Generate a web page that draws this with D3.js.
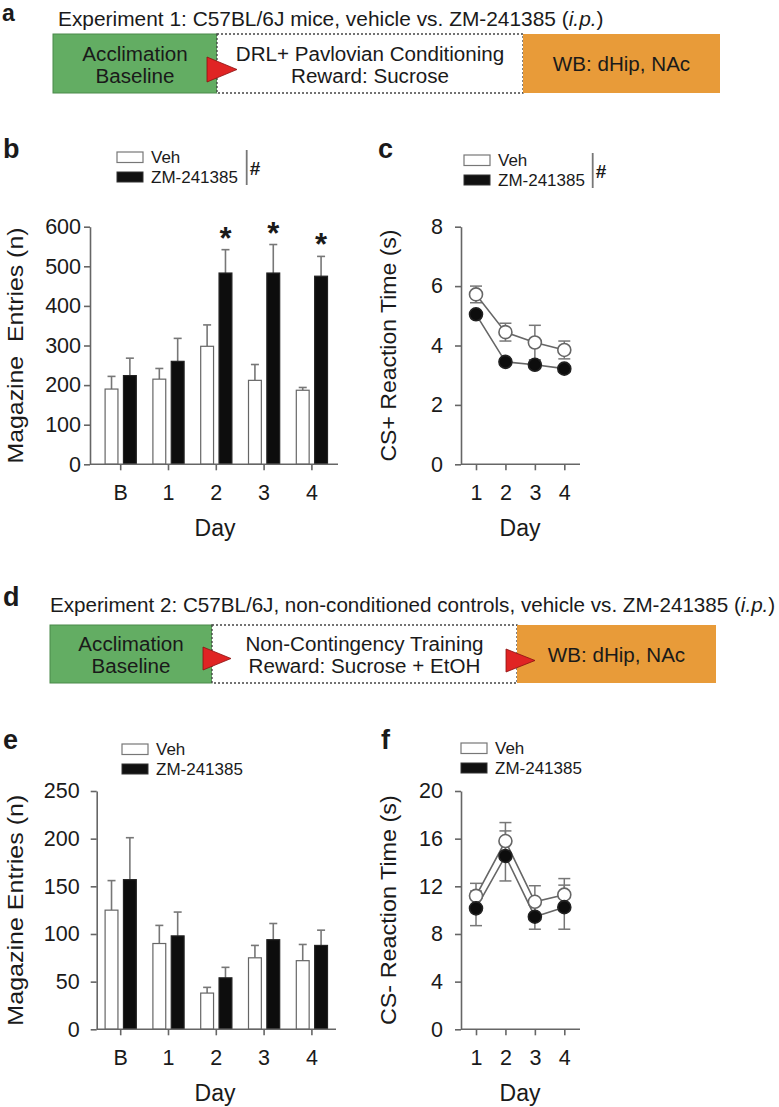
<!DOCTYPE html>
<html><head><meta charset="utf-8">
<script src="https://cdn.jsdelivr.net/npm/d3@7"></script>
<style>
body{margin:0;background:#fff}
svg{display:block}
text{font-family:"Liberation Sans",Arial,Helvetica,sans-serif;fill:#1a1a1a}
</style>
</head><body>
<svg id="fig" width="779" height="1107"></svg>
<script>
// ---------------- DATA ----------------
const days = ["B", "1", "2", "3", "4"];
const series = ["Veh", "ZM-241385"];
const lineDays = [1, 2, 3, 4];

// panel b: Magazine entries (n), experiment 1
const bVeh = [190, 215, 298, 212, 187];
const bVehErr = [32, 27, 54, 40, 7];
const bZM = [224, 260, 483, 483, 475];
const bZMErr = [44, 58, 59, 72, 50];
const bSig = [false, false, true, true, true];
const bTicks = [0, 100, 200, 300, 400, 500, 600];

// panel c: CS+ reaction time (s)
const cVeh = [5.72, 4.45, 4.1, 3.85];
const cVehErr = [0.28, 0.3, 0.58, 0.3];
const cZM = [5.05, 3.45, 3.35, 3.22];
const cZMErr = [0.12, 0.1, 0.12, 0.1];
const cTicks = [0, 2, 4, 6, 8];

// panel e: Magazine entries (n), experiment 2
const eVeh = [125, 90, 38, 75, 72];
const eVehErr = [31, 19, 6, 13, 17];
const eZM = [157, 98, 54, 94, 88];
const eZMErr = [44, 25, 11, 17, 16];
const eTicks = [0, 50, 100, 150, 200, 250];

// panel f: CS- reaction time (s)
const fVeh = [11.2, 15.8, 10.7, 11.3];
const fVehErr = [1.05, 1.55, 1.35, 1.35];
const fZM = [10.15, 14.55, 9.45, 10.25];
const fZMErr = [1.45, 2.1, 1.05, 1.85];
const fTicks = [0, 4, 8, 12, 16, 20];

// schematic texts
const exp1Title = ["Experiment 1: C57BL/6J mice, vehicle vs. ZM-241385 (", "i.p.", ")"];
const exp1Boxes = [["Acclimation", "Baseline"], ["DRL+ Pavlovian Conditioning", "Reward: Sucrose"], ["WB: dHip, NAc"]];
const exp2Title = ["Experiment 2: C57BL/6J, non-conditioned controls, vehicle vs. ZM-241385 (", "i.p.", ")"];
const exp2Boxes = [["Acclimation", "Baseline"], ["Non-Contingency Training", "Reward: Sucrose + EtOH"], ["WB: dHip, NAc"]];

// ---------------- DRAW ----------------
const svg = d3.select("#fig");
const AX = "#666";
const GREEN = "#63ad63", ORANGE = "#e89b39", RED = "#e02424";

function stretch(sel, x, y, w, rot) {
  const len = sel.node().getComputedTextLength();
  const s = w ? w / len : 1;
  sel.attr("transform", `translate(${x},${y})` + (rot ? ` rotate(${rot})` : "") + ` scale(${s},1)`);
  return sel;
}

function panelLetter(t, x, y, fs) {
  svg.append("text").attr("x", x).attr("y", y).attr("font-size", fs || 27).attr("font-weight", "bold").text(t);
}

// ---- schematic ----
function schematic(o) {
  const g = svg.append("g");
  const t = g.append("text").attr("font-size", 20).attr("fill", "#222");
  t.append("tspan").text(o.title[0]);
  t.append("tspan").attr("font-style", "italic").text(o.title[1]);
  t.append("tspan").text(o.title[2]);
  stretch(t, o.titleX, o.titleY, o.titleW);

  const [x0, x1, x2, x3] = o.xs;
  g.append("rect").attr("x", x0).attr("y", o.top).attr("width", x1 - x0).attr("height", o.h)
    .attr("fill", GREEN).attr("stroke", "#4a8a4a").attr("stroke-width", 1);
  g.append("rect").attr("x", x1).attr("y", o.top).attr("width", x2 - x1).attr("height", o.h)
    .attr("fill", "#fff").attr("stroke", "#444").attr("stroke-width", 1.3).attr("stroke-dasharray", "2,2");
  g.append("rect").attr("x", x2).attr("y", o.top).attr("width", x3 - x2).attr("height", o.h)
    .attr("fill", ORANGE);

  const centers = [(x0 + x1) / 2, (x1 + x2) / 2, (x2 + x3) / 2];
  o.boxes.forEach((lines, i) => {
    lines.forEach((ln, j) => {
      const yy = lines.length === 1 ? o.top + o.h / 2 + 7.5 : o.top + o.h / 2 - 3 + j * 22;
      const tt = g.append("text").attr("font-size", 20).attr("text-anchor", "middle").attr("fill", "#2a2a2a").text(ln);
      stretch(tt, centers[i], yy, tt.node().getComputedTextLength() * 1.03);
    });
  });
  o.tris.forEach(tr => {
    g.append("path").attr("d", `M${tr[0]},${tr[1]}L${tr[0]},${tr[1] + tr[3]}L${tr[0] + tr[2]},${tr[1] + tr[3] / 2}Z`)
      .attr("fill", RED).attr("stroke", "#8a1010").attr("stroke-width", 0.8);
  });
}

schematic({
  title: exp1Title, titleX: 58, titleY: 26, titleW: 546,
  xs: [53, 217, 523, 720], top: 34, h: 59, boxes: exp1Boxes,
  tris: [[207, 57, 30, 25]]
});
schematic({
  title: exp2Title, titleX: 50, titleY: 612, titleW: 726,
  xs: [50, 212, 517, 716], top: 625, h: 58, boxes: exp2Boxes,
  tris: [[203, 647, 28, 23], [506, 649, 29, 23]]
});

// ---- legends ----
function legend(x, y, hash, lineX) {
  const g = svg.append("g");
  g.append("rect").attr("x", x).attr("y", y).attr("width", 26).attr("height", 10.5)
    .attr("fill", "#fff").attr("stroke", "#777").attr("stroke-width", 1.2);
  g.append("rect").attr("x", x).attr("y", y + 20).attr("width", 26).attr("height", 10)
    .attr("fill", "#111").attr("stroke", "#333").attr("stroke-width", 1);
  g.append("text").attr("x", x + 34).attr("y", y + 11).attr("font-size", 17).attr("fill", "#333").text(series[0]);
  g.append("text").attr("x", x + 34).attr("y", y + 31).attr("font-size", 17).attr("fill", "#333").text(series[1]);
  if (hash) {
    g.append("line").attr("x1", lineX).attr("x2", lineX).attr("y1", y - 2).attr("y2", y + 33)
      .attr("stroke", "#777").attr("stroke-width", 1.8);
    g.append("text").attr("x", lineX + 3).attr("y", y + 23).attr("font-size", 19).attr("font-weight", "bold").text("#");
  }
}

// ---- bar panel ----
function barPanel(o) {
  const g = svg.append("g");
  const x = d3.scaleBand().domain(days).range([96.8, 335.8]);
  const xi = d3.scaleBand().domain(series).range([-15.6, 15.6]).paddingInner(0.3);
  const y = d3.scaleLinear().domain([0, o.max]).range([o.y0, o.y1]);
  const rows = [];
  days.forEach((d, i) => {
    rows.push({ d, s: series[0], v: o.veh[i], e: o.vehErr[i], sig: false });
    rows.push({ d, s: series[1], v: o.zm[i], e: o.zmErr[i], sig: o.sig ? o.sig[i] : false });
  });
  const cx = r => x(r.d) + x.bandwidth() / 2 + xi(r.s) + xi.bandwidth() / 2;
  rows.forEach(r => {
    const xc = cx(r);
    g.append("line").attr("x1", xc).attr("x2", xc).attr("y1", y(r.v)).attr("y2", y(r.v + r.e))
      .attr("stroke", "#777").attr("stroke-width", 1.6);
    g.append("line").attr("x1", xc - 4).attr("x2", xc + 4).attr("y1", y(r.v + r.e)).attr("y2", y(r.v + r.e))
      .attr("stroke", "#777").attr("stroke-width", 1.6);
    if (r.sig) {
      g.append("text").attr("x", xc).attr("y", y(r.v + r.e) - 1).attr("text-anchor", "middle")
        .attr("font-size", 31).attr("font-weight", "bold").text("*");
    }
  });
  g.selectAll("rect.bar").data(rows).join("rect").attr("class", "bar")
    .attr("x", r => x(r.d) + x.bandwidth() / 2 + xi(r.s))
    .attr("width", xi.bandwidth())
    .attr("y", r => y(r.v))
    .attr("height", r => o.y0 - y(r.v))
    .attr("fill", r => r.s === series[0] ? "#fff" : "#0d0d0d")
    .attr("stroke", r => r.s === series[0] ? "#666" : "#222")
    .attr("stroke-width", 1.2);
  const ya = g.append("g").attr("transform", `translate(${o.ax},0)`)
    .call(d3.axisLeft(y).tickValues(o.ticks).tickSize(6).tickSizeOuter(0).tickPadding(o.pad));
  ya.select(".domain").attr("stroke", AX).attr("stroke-width", 1.6);
  ya.selectAll(".tick line").attr("stroke", AX).attr("stroke-width", 1.6);
  ya.selectAll(".tick text").attr("font-size", 21.5).attr("fill", "#1a1a1a").attr("font-family", null);
  g.append("line").attr("x1", o.ax).attr("x2", o.axEnd).attr("y1", o.y0).attr("y2", o.y0)
    .attr("stroke", AX).attr("stroke-width", 1.6);
  const xa = g.append("g").attr("transform", `translate(0,${o.y0})`)
    .call(d3.axisBottom(x).tickSize(6).tickSizeOuter(0).tickPadding(14));
  xa.select(".domain").remove();
  xa.selectAll(".tick line").attr("stroke", AX).attr("stroke-width", 1.6);
  xa.selectAll(".tick text").attr("font-size", 21.5).attr("fill", "#1a1a1a").attr("font-family", null);
  g.append("text").attr("x", 215).attr("y", o.y0 + 72).attr("text-anchor", "middle").attr("font-size", 23).text("Day");
  const yl = g.append("text").attr("text-anchor", "middle").attr("font-size", 22.5)
    .style("white-space", "pre").text(o.ylabel);
  stretch(yl, 23, (o.y0 + o.y1) / 2, o.ylabelW, -90);
}

// ---- line panel ----
function linePanel(o) {
  const g = svg.append("g");
  const x = d3.scalePoint().domain(lineDays).range([476, 564.3]);
  const y = d3.scaleLinear().domain([0, o.max]).range([o.y0, o.y1]);
  const sets = [
    { s: series[0], v: o.veh, e: o.vehErr, fill: "#fff", stroke: "#666" },
    { s: series[1], v: o.zm, e: o.zmErr, fill: "#0d0d0d", stroke: "#222" }
  ];
  sets.forEach(st => {
    lineDays.forEach((d, i) => {
      const xc = x(d), lo = y(st.v[i] - st.e[i]), hi = y(st.v[i] + st.e[i]);
      g.append("line").attr("x1", xc).attr("x2", xc).attr("y1", lo).attr("y2", hi).attr("stroke", "#777").attr("stroke-width", 1.5);
      [lo, hi].forEach(yy => g.append("line").attr("x1", xc - 6).attr("x2", xc + 6).attr("y1", yy).attr("y2", yy)
        .attr("stroke", "#777").attr("stroke-width", 1.5));
    });
  });
  const line = d3.line().x((v, i) => x(lineDays[i])).y(v => y(v));
  sets.forEach(st => {
    g.append("path").attr("d", line(st.v)).attr("fill", "none").attr("stroke", "#666").attr("stroke-width", 1.6);
  });
  sets.forEach(st => {
    g.selectAll(null).data(st.v).join("circle")
      .attr("cx", (v, i) => x(lineDays[i])).attr("cy", v => y(v)).attr("r", 6.5)
      .attr("fill", st.fill).attr("stroke", st.stroke).attr("stroke-width", 1.6);
  });
  const ya = g.append("g").attr("transform", `translate(461,0)`)
    .call(d3.axisLeft(y).tickValues(o.ticks).tickSize(6).tickSizeOuter(0).tickPadding(12));
  ya.select(".domain").attr("stroke", AX).attr("stroke-width", 1.6);
  ya.selectAll(".tick line").attr("stroke", AX).attr("stroke-width", 1.6);
  ya.selectAll(".tick text").attr("font-size", 21.5).attr("fill", "#1a1a1a").attr("font-family", null);
  g.append("line").attr("x1", 461).attr("x2", 580).attr("y1", o.y0).attr("y2", o.y0)
    .attr("stroke", AX).attr("stroke-width", 1.6);
  const xa = g.append("g").attr("transform", `translate(0,${o.y0})`)
    .call(d3.axisBottom(x).tickSize(6).tickSizeOuter(0).tickPadding(14));
  xa.select(".domain").remove();
  xa.selectAll(".tick line").attr("stroke", AX).attr("stroke-width", 1.6);
  xa.selectAll(".tick text").attr("font-size", 21.5).attr("fill", "#1a1a1a").attr("font-family", null);
  g.append("text").attr("x", 520).attr("y", o.y0 + 72).attr("text-anchor", "middle").attr("font-size", 23).text("Day");
  const yl = g.append("text").attr("text-anchor", "middle").attr("font-size", 22.5).text(o.ylabel);
  stretch(yl, 396, (o.y0 + o.y1) / 2, o.ylabelW, -90);
}

// panel letters
panelLetter("a", 2, 21, 23);
panelLetter("b", 3, 158);
panelLetter("c", 378, 158);
panelLetter("d", 3, 606);
panelLetter("e", 3, 749);
panelLetter("f", 381, 749);

legend(117, 152, true, 246.7);
legend(464, 155, true, 592.7);
legend(122, 744, false);
legend(461, 743, false);

barPanel({ veh: bVeh, vehErr: bVehErr, zm: bZM, zmErr: bZMErr, sig: bSig, max: 600, ticks: bTicks,
  y0: 464.3, y1: 226.7, ax: 90, axEnd: 338, pad: 3, ylabel: "Magazine  Entries (n)", ylabelW: 236 });
linePanel({ veh: cVeh, vehErr: cVehErr, zm: cZM, zmErr: cZMErr, max: 8, ticks: cTicks,
  y0: 464.3, y1: 226.7, ylabel: "CS+ Reaction Time (s)", ylabelW: 232 });
barPanel({ veh: eVeh, vehErr: eVehErr, zm: eZM, zmErr: eZMErr, sig: null, max: 250, ticks: eTicks,
  y0: 1029.3, y1: 791, ax: 96.7, axEnd: 336, pad: 11, ylabel: "Magazine Entries (n)", ylabelW: 231 });
linePanel({ veh: fVeh, vehErr: fVehErr, zm: fZM, zmErr: fZMErr, max: 20, ticks: fTicks,
  y0: 1029.3, y1: 791, ylabel: "CS- Reaction Time (s)", ylabelW: 230 });
</script>
</body></html>
